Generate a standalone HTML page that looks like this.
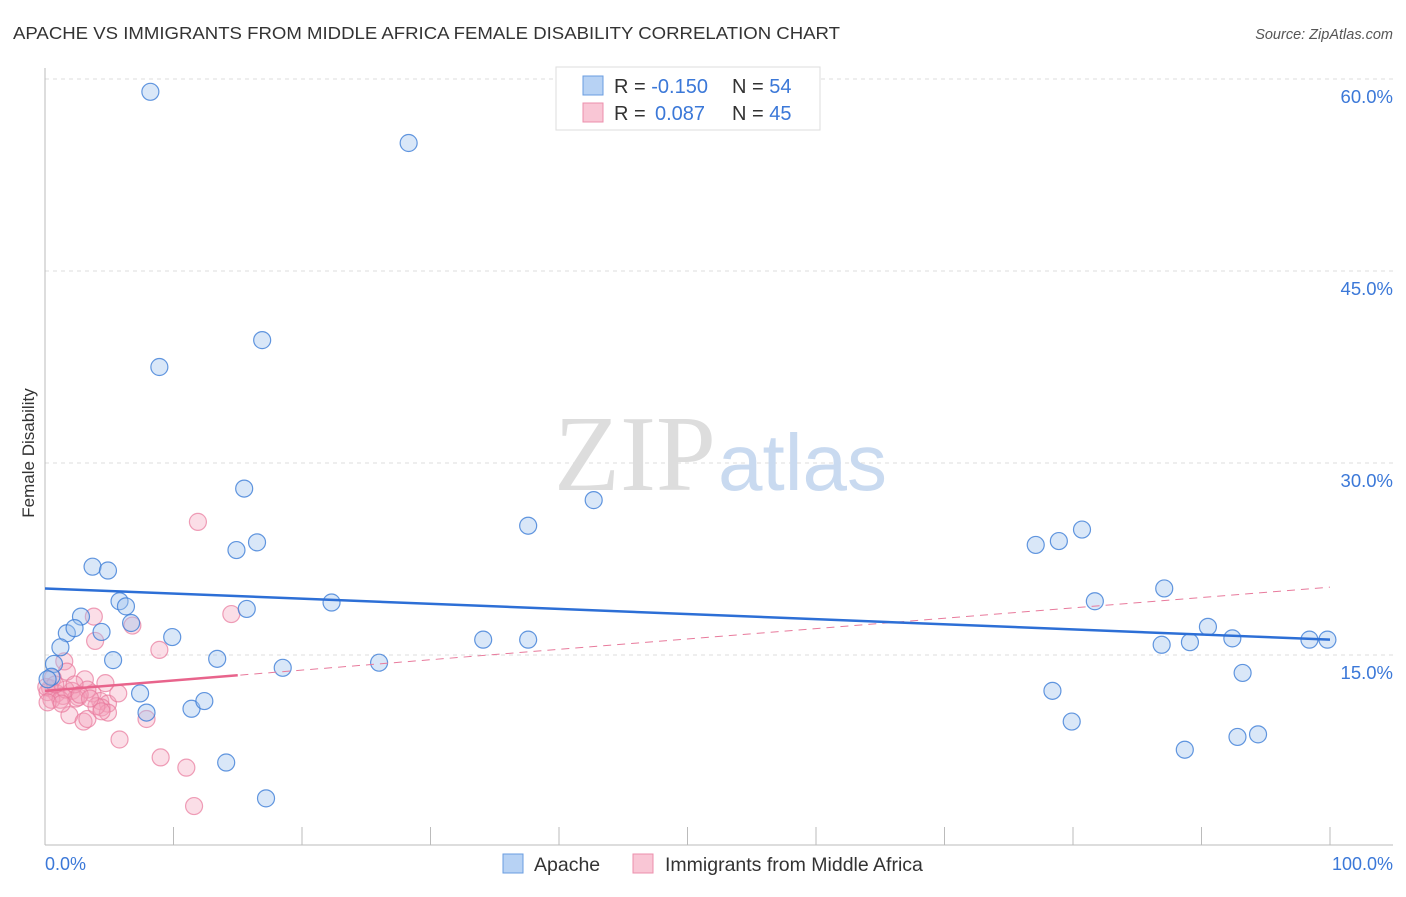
<!DOCTYPE html>
<html><head><meta charset="utf-8"><style>
body{margin:0;background:#fff;font-family:"Liberation Sans",sans-serif;}
</style></head><body>
<svg width="1406" height="892" xmlns="http://www.w3.org/2000/svg" font-family="Liberation Sans, sans-serif">
<text x="13" y="39" font-size="17.5" fill="#333" textLength="827" lengthAdjust="spacingAndGlyphs">APACHE VS IMMIGRANTS FROM MIDDLE AFRICA FEMALE DISABILITY CORRELATION CHART</text>
<text x="1393" y="39" font-size="14.5" fill="#555" font-style="italic" text-anchor="end">Source: ZipAtlas.com</text>
<g id="grid"></g>
<text x="716" y="490" font-size="108" font-family="Liberation Serif, serif" fill="#ddd" text-anchor="end">ZIP</text>
<text x="718" y="490" font-size="80" fill="#c9daf0">atlas</text>
<line x1="45" y1="68" x2="45" y2="845" stroke="#bbb"/>
<line x1="45" y1="845" x2="1393" y2="845" stroke="#bbb"/>
<g id="xticks"></g>
<text x="36" y="455" font-size="17" fill="#333" transform="rotate(-90 34 455)" text-anchor="middle">Female Disability</text>
<text x="45" y="870" font-size="18" fill="#3b78d8">0.0%</text>
<text x="1393" y="870" font-size="18" fill="#3b78d8" text-anchor="end">100.0%</text>
<g id="points"></g>
<g id="lines"></g>
<g>
<rect x="556" y="67" width="264" height="63" fill="#fff" stroke="#ddd"/>
<rect x="583" y="76" width="20" height="19" fill="#b7d2f4" stroke="#6a9ce0"/>
<rect x="583" y="103" width="20" height="19" fill="#f9c6d5" stroke="#ec8fac"/>
<text x="614" y="93" font-size="20" fill="#333">R = <tspan fill="#3b78d8">-0.150</tspan><tspan x="732">N = </tspan><tspan fill="#3b78d8">54</tspan></text>
<text x="614" y="120" font-size="20" fill="#333">R = <tspan x="655" fill="#3b78d8">0.087</tspan><tspan x="732">N = </tspan><tspan fill="#3b78d8">45</tspan></text>
</g>
<g>
<rect x="503" y="854" width="20" height="19" fill="#b7d2f4" stroke="#6a9ce0"/>
<text x="534" y="871" font-size="19.5" fill="#333">Apache</text>
<rect x="633" y="854" width="20" height="19" fill="#f9c6d5" stroke="#ec8fac"/>
<text x="665" y="871" font-size="19.5" fill="#333">Immigrants from Middle Africa</text>
</g>
</svg>
<script>
const yTicks=[15,30,45,60];
const blueX=[8.2,28.3,16.9,8.9,15.5,42.7,37.6,16.5,14.9,3.7,4.9,5.8,6.3,15.7,22.3,2.8,6.7,1.7,2.3,4.4,9.9,1.2,34.1,37.6,0.7,5.3,13.4,18.5,26,7.4,7.9,11.4,12.4,14.1,17.2,77.1,78.9,80.7,81.7,87.1,90.5,92.4,86.9,89.1,98.4,99.8,93.2,78.4,79.9,88.7,92.8,94.4,0.5,0.2];
const blueY=[59,55,39.6,37.5,28,27.1,25.1,23.8,23.2,21.9,21.6,19.2,18.8,18.6,19.1,18,17.5,16.7,17.1,16.8,16.4,15.6,16.2,16.2,14.3,14.6,14.7,14,14.4,12,10.5,10.8,11.4,6.6,3.8,23.6,23.9,24.8,19.2,20.2,17.2,16.3,15.8,16,16.2,16.2,13.6,12.2,9.8,7.6,8.6,8.8,13.3,13.1];
const pinkX=[11.9,3.8,14.5,6.8,3.9,8.9,1.5,1.7,0.6,3.1,4.7,3.7,0.4,0.9,1.4,2.1,2.6,3.3,4.3,4.9,4.4,2.4,1.9,3,3.3,4.9,5.8,7.9,9,11,11.6,0.2,0.1,0.5,1.2,1.6,2.3,2.7,4,0.8,0.2,5.7,1.3,3.5,4.4];
const pinkY=[25.4,18,18.2,17.3,16.1,15.4,14.5,13.7,13.2,13.1,12.8,12,12.4,12,11.8,12.2,11.7,12.3,11.4,11.2,10.9,11.6,10.3,9.8,10,10.5,8.4,10,7,6.2,3.2,12.1,12.5,11.5,11.5,12.3,12.7,11.9,11,12.7,11.3,12,11.2,11.6,10.6];
const blueTrend=[20.2,16.2];
const pinkTrend=[12.2,20.3];
const pinkSolidEnd=15;
const NS='http://www.w3.org/2000/svg';
const X=v=>45+v*12.85, Y=v=>847-v*12.8;
function mk(t,a,p){const e=document.createElementNS(NS,t);for(const k in a)e.setAttribute(k,a[k]);document.getElementById(p).appendChild(e);return e;}
yTicks.forEach(t=>{
 const l=mk('line',{x1:45,x2:1393,y1:Y(t),y2:Y(t),stroke:'#ddd','stroke-dasharray':'4,4'},'grid');
 
 
 const tx=mk('text',{x:1393,y:Y(t)+24,'font-size':18.5,fill:'#3b78d8','text-anchor':'end'},'grid');
 tx.textContent=t.toFixed(1)+'%';
 
 
});
for(let i=1;i<=10;i++){
 const l=mk('line',{x1:X(i*10),x2:X(i*10),y1:827,y2:845,stroke:'#bbb'},'xticks');
 
 
}
pinkX.forEach((x,i)=>{
 const c=mk('circle',{cx:X(x),cy:Y(pinkY[i]),r:8.5,fill:'rgba(244,160,186,0.35)',stroke:'rgba(232,120,155,0.7)','stroke-width':1.2},'points');
 
 
});
blueX.forEach((x,i)=>{
 const c=mk('circle',{cx:X(x),cy:Y(blueY[i]),r:8.5,fill:'rgba(160,195,238,0.4)',stroke:'rgba(60,125,215,0.8)','stroke-width':1.2},'points');
 
 
});
const pv=x=>pinkTrend[0]+(pinkTrend[1]-pinkTrend[0])*x/100;
let l=mk('line',{x1:X(0),y1:Y(pv(0)),x2:X(100),y2:Y(pv(100)),stroke:'#e87a9c','stroke-width':1,'stroke-dasharray':'8,6'},'lines');


l=mk('line',{x1:X(0),y1:Y(pv(0)),x2:X(pinkSolidEnd),y2:Y(pv(pinkSolidEnd)),stroke:'#e8648c','stroke-width':2.5},'lines');


l=mk('line',{x1:X(0),y1:Y(blueTrend[0]),x2:X(100),y2:Y(blueTrend[1]),stroke:'#2d6fd6','stroke-width':2.5},'lines');


</script>
</body></html>
